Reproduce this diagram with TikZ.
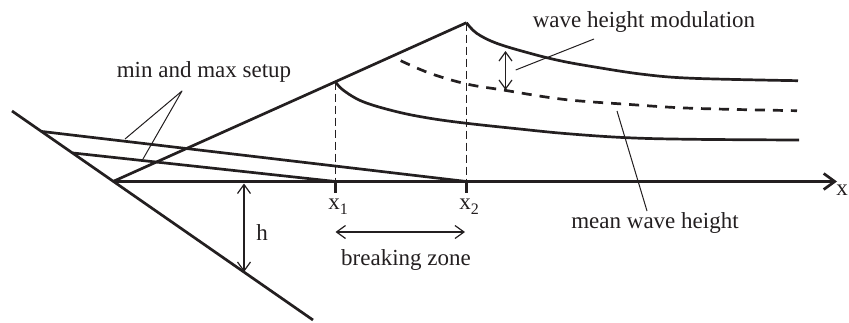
\documentclass[tikz,border=0pt]{standalone}
\usepackage{fontspec}
\setmainfont{Liberation Serif}
\usetikzlibrary{arrows.meta}
\definecolor{ink}{RGB}{35,31,32}
\newcommand{\subnum}[1]{\raisebox{-0.45ex}{\fontsize{16}{18}\selectfont #1}}
\begin{document}
\begin{tikzpicture}[x=1pt,y=-1pt, line join=round,
  thickline/.style={draw=ink, line width=2.7pt},
  thinline/.style={draw=ink, line width=1.2pt},
  lbl/.style={text=ink, font=\fontsize{23}{27}\selectfont, inner sep=0pt},
  barbs/.style={{Straight Barb[length=9pt,width=13pt]}-{Straight Barb[length=9pt,width=13pt]}},
  vdash/.style={thinline, dash pattern=on 8pt off 4pt},
  cdash/.style={thickline, dash pattern=on 10pt off 8pt}]
\useasboundingbox (0,0) rectangle (849,322);
% key points
\coordinate (shoreTop) at (12,111);
\coordinate (shoreBot) at (313,320);
\coordinate (S) at (113,181.5);
\coordinate (axisEnd) at (837,181.5);
\coordinate (P1) at (335.5,81.7);
\coordinate (P2) at (466.5,22.7);
\coordinate (X1) at (335.5,181.5);
\coordinate (X2) at (466.5,181.5);
\coordinate (Smax) at (42,131.5);
\coordinate (Smin) at (73,153);
\coordinate (hTop) at (244,183.5);
\coordinate (hBot) at (244,272);
\coordinate (bzL) at (335.5,232);
\coordinate (bzR) at (465,232);
\coordinate (mTop) at (505.5,51);
\coordinate (mBot) at (505.5,90);
% shore and axis
\draw[thickline] (shoreTop) -- (shoreBot);
\draw[thickline, -{Straight Barb[length=11pt,width=16pt]}] (S) -- (axisEnd);
% setup lines
\draw[thickline] (Smax) -- (X2);
\draw[thickline] (Smin) -- (X1);
% wave height envelope
\draw[thickline] (S) -- (P1) -- (P2);
% ticks and dashed verticals
\draw[ink, line width=2.2pt] (X1) -- ++(0,11);
\draw[ink, line width=2.2pt] (X2) -- ++(0,11);
\draw[vdash] (P1) -- (X1);
\draw[vdash] (P2) -- (X2);
% curves
\draw[thickline] plot[smooth, tension=0.6] coordinates {(466.5,22.7) (476.7,33.3) (496.7,43.3) (530,53.3) (560,60.7) (593,66.7) (643,74.3) (693,78.3) (798,80.7)};
\draw[cdash] plot[smooth, tension=0.6] coordinates {(400.7,60.7) (430,73.3) (466.7,84) (503,90) (563,99.3) (627,104.3) (693,108.3) (797,110.7)};
\draw[thickline] plot[smooth, tension=0.6] coordinates {(335.5,81.7) (343,90) (363,101.7) (396.7,111.7) (430,118.3) (466.7,123.3) (513,128.3) (565,133.5) (627,137.7) (693,139.3) (799,140)};
% arrows
\draw[thinline, barbs] (hTop) -- (hBot);
\draw[thinline, barbs] (bzL) -- (bzR);
\draw[thinline, barbs] (mTop) -- (mBot);
% labels
\node[lbl] (hlab) at (262,233) {h};
\node[lbl] (x1lab) at (338,207) {x\subnum{1}};
\node[lbl] (x2lab) at (469,207) {x\subnum{2}};
\node[lbl] (xlab) at (842,190) {x};
\node[lbl] (bz) at (406,260) {breaking zone};
\node[lbl] (setup) at (204,72) {min and max setup};
\node[lbl] (mod) at (644,22) {wave height modulation};
\node[lbl] (mean) at (655,223) {mean wave height};
% leaders
\coordinate (setupApex) at (182,91);
\coordinate (onMax) at (125,139);
\coordinate (onMin) at (143,159);
\draw[thinline, line width=1pt] (onMax) -- (setupApex) -- (onMin);
\coordinate (modA) at (515.7,70);
\coordinate (modB) at (594,39);
\draw[thinline, line width=1pt] (modA) -- (modB);
\coordinate (meanA) at (617,111);
\coordinate (meanB) at (647,211);
\draw[thinline, line width=1pt] (meanA) -- (meanB);
\end{tikzpicture}
\end{document}
